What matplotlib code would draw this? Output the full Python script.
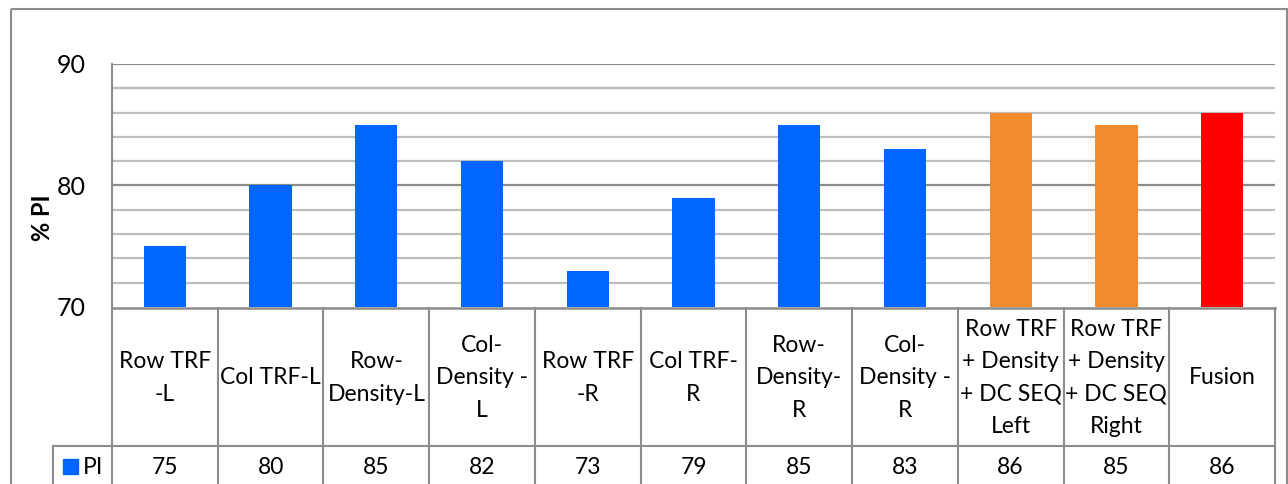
import matplotlib

matplotlib.use("Agg")
import matplotlib.pyplot as plt
import matplotlib.transforms as mtransforms
from matplotlib.patches import Rectangle

# ---------------------------------------------------------------------------
# Data
# ---------------------------------------------------------------------------
categories = [
    "Row TRF\n-L",
    "Col TRF-L",
    "Row-\nDensity-L",
    "Col-\nDensity -\nL",
    "Row TRF\n-R",
    "Col TRF-\nR",
    "Row-\nDensity-\nR",
    "Col-\nDensity -\nR",
    "Row TRF\n+ Density\n+ DC SEQ\nLeft",
    "Row TRF\n+ Density\n+ DC SEQ\nRight",
    "Fusion",
]
pi_values = [75, 80, 85, 82, 73, 79, 85, 83, 86, 85, 86]
bar_colors = ["#0066FF"] * 8 + ["#F38A2C", "#F38A2C", "#FF0000"]
series_name = "PI"
y_label = "% PI"
y_ticks = [70, 80, 90]

W, H = 1288, 484
FONT = ["Lato", "DejaVu Sans"]
GRID_MINOR = "#BEBEBE"
GRID_MAJOR = "#8C8C8C"
LINE = "#8C8C8C"

plt.rcParams["font.family"] = FONT

fig = plt.figure(figsize=(W / 100, H / 100), dpi=100)

# overlay in pixel coordinates (y downward) for the frame and table
over = fig.add_axes([0, 0, 1, 1])
over.set_xlim(0, W)
over.set_ylim(H, 0)
over.axis("off")

# plot area: x 112..1275, y 64..307 (pixels from top)
px_l, px_r, px_t, px_b = 112, 1275, 64, 307
ax = fig.add_axes([px_l / W, 1 - px_b / H, (px_r - px_l) / W, (px_b - px_t) / H])
ax.set_zorder(2)

x = list(range(len(categories)))
ax.bar(x, [v - 70 for v in pi_values], bottom=70, width=0.4, color=bar_colors, zorder=3)
ax.set_xlim(-0.5, len(categories) - 0.5)
ax.set_ylim(70, 90)

for v in range(72, 90, 2):
    if v != 80:
        ax.axhline(v, color=GRID_MINOR, lw=1.6, zorder=1)
for v in (80, 90):
    ax.axhline(v, color=GRID_MAJOR, lw=1.6, zorder=1)

ax.set_xticks([])
ax.set_yticks(y_ticks)
ax.set_yticklabels([str(t) for t in y_ticks], fontsize=18)
ax.tick_params(axis="y", length=0, pad=19)
for s in ("top", "right", "bottom"):
    ax.spines[s].set_visible(False)
ax.spines["left"].set_color(LINE)
ax.spines["left"].set_linewidth(1.5)
ax.patch.set_alpha(0)

over.text(43, 218, y_label, rotation=90, ha="center", va="center",
          fontsize=17, fontweight="bold")

# outer chart frame
over.add_patch(Rectangle((11, 9), 1276, 480, fill=False, ec=LINE, lw=1.5, zorder=1))

# ---------------------------------------------------------------------------
# Data table below the axis
# ---------------------------------------------------------------------------
tr = mtransforms.blended_transform_factory(ax.transData, over.transData)
row1_t, row1_b, row2_b = 308, 446, 486

over.plot([px_l, px_r], [row1_t, row1_t], color=LINE, lw=1.8, zorder=3)
over.plot([53, px_r], [row1_b, row1_b], color=LINE, lw=1.5, zorder=3)
over.plot([53, 53], [row1_b, row2_b], color=LINE, lw=1.5, zorder=3)
for edge in [i - 0.5 for i in range(len(categories) + 1)]:
    over.plot([edge, edge], [row1_t, row2_b], color=LINE, lw=1.5,
              transform=tr, zorder=3, clip_on=False)

for i, (lab, val) in enumerate(zip(categories, pi_values)):
    over.text(i, (row1_t + row1_b) / 2 + 1, lab, transform=tr, ha="center",
              va="center", fontsize=16.5, linespacing=1.68, multialignment="center")
    over.text(i, 467, str(val), transform=tr, ha="center", va="center", fontsize=16.5)

# legend key in the table
over.add_patch(Rectangle((63, 459), 15, 15, color=bar_colors[0], zorder=3))
over.text(83, 467, series_name, ha="left", va="center", fontsize=16.5)

fig.savefig("out.png", dpi=100)
